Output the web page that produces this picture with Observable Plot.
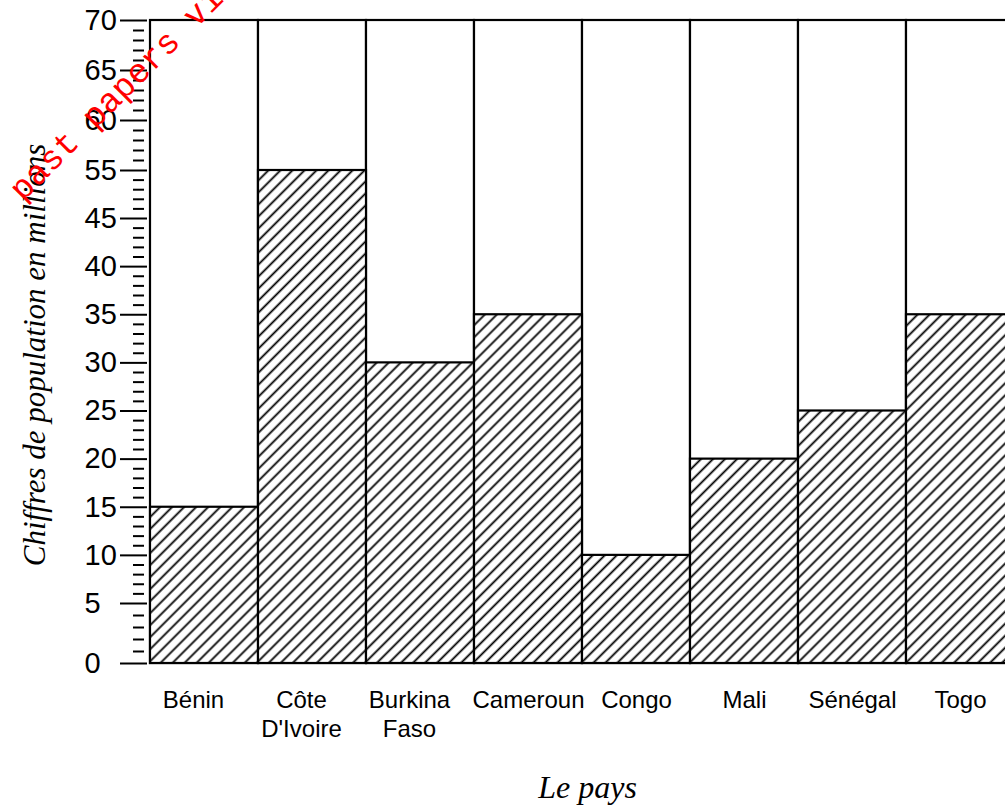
<!DOCTYPE html>
<html><head><meta charset="utf-8">
<script src="https://cdn.jsdelivr.net/npm/d3@7"></script>
<script src="https://cdn.jsdelivr.net/npm/@observablehq/plot@0.6"></script>
<style>html,body{margin:0;padding:0;overflow:hidden;background:#fff} svg{max-width:none !important;}</style>
</head><body><div id="chart"></div>
<script>
// Data
const countries = ["Bénin", "Côte\nD'Ivoire", "Burkina\nFaso", "Cameroun", "Congo", "Mali", "Sénégal", "Togo"];
const population = [15, 55, 30, 35, 10, 20, 25, 35];
const yMax = 70;
const majorTicks = [0, 5, 10, 15, 20, 25, 30, 35, 40, 45, 55, 60, 65, 70];
const yTitle = "Chiffres de population en millions";
const xTitle = "Le pays";
const watermark = "r past papers vi";

// The printed axis is irregular (45 is followed by 55): piecewise mapping of values to axis distance
const pos = d3.scaleLinear().domain([0, 5, 45, 55, 70]).range([0, 60, 445, 493, 643]);

const rows = countries.map((c, i) => ({country: c, value: population[i]}));
const minorTicks = [];
for (let i = 0; i < majorTicks.length - 1; i++) {
  const a = majorTicks[i], b = majorTicks[i + 1];
  for (let k = 1; k < 5; k++) minorTicks.push(a + (b - a) * k / 5);
}
const labelAt = new Map(majorTicks.map(v => [pos(v), String(v)]));
const xAxisText = {tickSize: 0, tickPadding: 25, fontSize: 24, lineHeight: 1.17, label: null};

const chart = Plot.plot({
  width: 1020,
  height: 807,
  marginLeft: 147,
  marginRight: 3,
  marginTop: 20,
  marginBottom: 144,
  style: {fontFamily: "'Liberation Sans', Arial, sans-serif", background: "white", color: "black"},
  x: {domain: countries, range: [147, 1017], padding: 0},
  y: {domain: [0, pos(yMax)], range: [663, 20]},
  marks: [
    Plot.barY(rows, {x: "country", y1: () => 0, y2: () => pos(yMax), fill: "white", stroke: "black", strokeWidth: 2.2}),
    Plot.barY(rows, {x: "country", y1: () => 0, y2: d => pos(d.value), fill: "url(#hatch)", stroke: "black", strokeWidth: 2.2}),
    Plot.axisY(minorTicks.map(pos), {tickSize: 11, dx: -3, tickFormat: () => "", strokeWidth: 2, label: null}),
    Plot.axisY(majorTicks.map(pos), {tickSize: 27, tickFormat: () => "", strokeWidth: 2, label: null}),
    Plot.axisY(majorTicks.map(pos), {tickSize: 0, tickPadding: 63, textAnchor: "start", fontSize: 29, label: null, tickFormat: p => labelAt.get(p)}),
    Plot.axisX(countries.slice(0, 3), {...xAxisText, dx: -11}),
    Plot.axisX(countries.slice(3), xAxisText),
    Plot.text([yTitle], {frameAnchor: "left", textAnchor: "middle", rotate: -90, dx: -112, dy: 13, fontFamily: "'Liberation Serif', serif", fontStyle: "italic", fontSize: 31}),
    Plot.text([xTitle], {frameAnchor: "bottom", dx: 5, dy: 134, fontFamily: "'Liberation Serif', serif", fontStyle: "italic", fontSize: 32})
  ]
});

const svg = d3.select(chart);
const defs = svg.insert("defs", ":first-child");
const pat = defs.append("pattern").attr("id", "hatch").attr("patternUnits", "userSpaceOnUse")
  .attr("width", 8.5).attr("height", 8.5).attr("patternTransform", "rotate(45)");
pat.append("rect").attr("width", 8.5).attr("height", 8.5).attr("fill", "white");
pat.append("line").attr("x1", 4.25).attr("x2", 4.25).attr("y1", 0).attr("y2", 8.5)
  .attr("stroke", "black").attr("stroke-width", 1.8);
svg.append("text").attr("transform", "translate(-6,231) rotate(-45)")
  .attr("text-anchor", "start")
  .attr("fill", "red").attr("font-family", "'Liberation Mono', monospace").attr("font-size", 34)
  .text(watermark);

document.getElementById("chart").appendChild(chart);
</script>
</body></html>
